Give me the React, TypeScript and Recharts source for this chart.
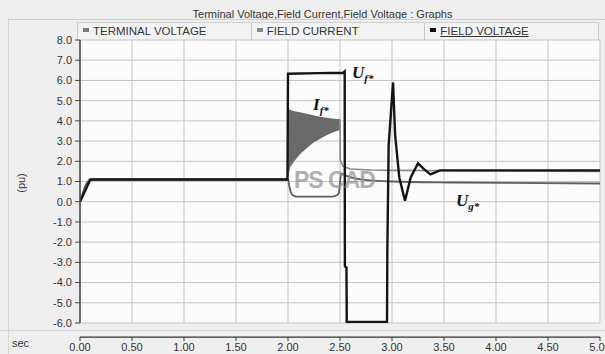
import React from 'react';
import { ComposedChart, Line, Area, XAxis, YAxis, CartesianGrid, ReferenceLine } from 'recharts';

const xTicks = [0, 0.5, 1, 1.5, 2, 2.5, 3, 3.5, 4, 4.5, 5];
const yTicks = [-6, -5, -4, -3, -2, -1, 0, 1, 2, 3, 4, 5, 6, 7, 8];
const legendNames = ['TERMINAL VOLTAGE', 'FIELD CURRENT', 'FIELD VOLTAGE'];
const legendColors = ['#7a7a7a', '#8a8a8a', '#111'];

// field voltage Uf*
const ufTime = [0, 0.1, 1.995, 2.0, 2.3, 2.53, 2.545, 2.547, 2.562, 2.565, 2.952, 2.955, 2.968, 3.01, 3.03, 3.07, 3.125, 3.18, 3.25, 3.31, 3.37, 3.46, 5.0];
const ufValue = [0, 1.1, 1.1, 6.33, 6.36, 6.38, 6.45, -3.2, -3.25, -5.95, -5.95, -2.5, 2.8, 5.9, 3.3, 1.2, 0.05, 1.2, 1.9, 1.6, 1.35, 1.55, 1.55];

// terminal voltage Ug*
const ugTime = [0, 0.1, 2.0, 2.015, 2.04, 2.08, 2.42, 2.47, 2.49, 2.5, 2.51, 2.55, 2.7, 3.0, 3.6, 5.0];
const ugValue = [0, 1.1, 1.1, 0.7, 0.35, 0.25, 0.25, 0.32, 0.45, 0.95, 1.4, 1.3, 1.1, 1.0, 0.95, 0.9];

// field current If* (line part, gap where the band is)
const ifTime = [0, 0.1, 2.0, 2.25, 2.5, 2.502, 2.53, 2.6, 2.8, 3.0, 5.0];
const ifValue = [0, 1.1, 1.1, null, 4.08, 2.05, 1.75, 1.62, 1.57, 1.55, 1.5];

// field current If* fast oscillation envelope
const bandTime = [2.0, 2.02, 2.06, 2.115, 2.18, 2.24, 2.31, 2.375, 2.44, 2.5];
const bandLow = [1.1, 1.7, 2.0, 2.35, 2.65, 2.9, 3.12, 3.3, 3.45, 3.55];
const bandHigh = [4.6, 4.55, 4.47, 4.42, 4.35, 4.28, 4.2, 4.15, 4.1, 4.08];

const zip = (t: number[], v: (number | null)[]) => t.map((time, i) => ({ t: time, v: v[i] }));
const ufData = zip(ufTime, ufValue);
const ugData = zip(ugTime, ugValue);
const ifData = zip(ifTime, ifValue);
const bandData = bandTime.map((time, i) => ({ t: time, range: [bandLow[i], bandHigh[i]] }));

const XTick = (props: any) => {
  const { x, y, payload } = props;
  return (
    <g>
      <line x1={x} x2={x} y1={y + 14} y2={y + 18} stroke="#333" />
      <text x={x} y={y + 28} textAnchor="middle" fontSize={11} fill="#333">
        {Number(payload.value).toFixed(2)}
      </text>
    </g>
  );
};

const mathLabel: React.CSSProperties = {
  position: 'absolute',
  fontFamily: '"Liberation Serif", serif',
  fontStyle: 'italic',
  fontWeight: 'bold',
  fontSize: 17,
  lineHeight: '16px',
  color: '#111',
  whiteSpace: 'nowrap',
};
const subStyle: React.CSSProperties = { fontSize: 11, verticalAlign: 'baseline', position: 'relative', top: 4 };

export default function App() {
  return (
    <div
      style={{
        position: 'absolute',
        left: 0,
        top: 0,
        width: 605,
        height: 354,
        background: '#efefef',
        fontFamily: '"Liberation Sans", Arial, sans-serif',
        color: '#333',
        overflow: 'hidden',
      }}
    >
      {/* title bar */}
      <div style={{ position: 'absolute', left: 40, width: 565, top: 7, textAlign: 'center', fontSize: 11, lineHeight: '14px' }}>
        Terminal Voltage,Field Current,Field Voltage : Graphs
      </div>
      <div style={{ position: 'absolute', left: 8, right: 0, top: 19, borderTop: '1px solid #cfcfcf' }} />
      <div style={{ position: 'absolute', left: 8, top: 19, bottom: 0, borderLeft: '1px solid #d6d6d6' }} />

      {/* legend row */}
      <div style={{ position: 'absolute', left: 77, top: 22, width: 522, height: 17, display: 'flex', background: '#f3f3f3', borderTop: '1px solid #d0d0d0' }}>
        {legendNames.map((name, i) => (
          <div
            key={name}
            style={{
              flex: 1,
              borderLeft: '1px solid #c8c8c8',
              borderRight: i === 2 ? '1px solid #c8c8c8' : undefined,
              fontSize: 11.5,
              lineHeight: '17px',
              paddingLeft: 5,
              whiteSpace: 'nowrap',
            }}
          >
            <span style={{ display: 'inline-block', width: 6, height: 4, background: legendColors[i], marginRight: 4, verticalAlign: 'middle', position: 'relative', top: -2 }} />
            <span style={{ textDecoration: i === 2 ? 'underline' : 'none' }}>{name}</span>
          </div>
        ))}
      </div>

      <div style={{ position: 'absolute', left: 0, top: 330, width: 605, borderTop: '1px solid #d6d6d6' }} />

      <ComposedChart width={605} height={354} data={ufData} margin={{ top: 40, right: 5, bottom: 0, left: 0 }} style={{ position: 'absolute', left: 0, top: 0 }}>
        <CartesianGrid stroke="#c4c4c4" fill="#fcfcfc" />
        <XAxis
          dataKey="t"
          type="number"
          domain={[0, 5]}
          ticks={xTicks}
          allowDataOverflow
          height={31}
          axisLine={false}
          tickLine={false}
          tickSize={0}
          tickMargin={0}
          tick={<XTick />}
        />
        <YAxis
          type="number"
          domain={[-6, 8]}
          ticks={yTicks}
          allowDataOverflow
          width={80}
          interval={0}
          tickFormatter={(v: number) => v.toFixed(1)}
          tick={{ fontSize: 11, fill: '#333' }}
          tickSize={5}
          tickMargin={3}
          axisLine={{ stroke: '#444', strokeWidth: 1.5 }}
          tickLine={{ stroke: '#444' }}
        />
        <ReferenceLine y={-6.7} ifOverflow="visible" stroke="#333" strokeWidth={1.2} />
        <Area data={bandData} dataKey="range" type="linear" stroke="none" fill="#6a6a6a" fillOpacity={1} isAnimationActive={false} />
        <Line data={ifData} dataKey="v" type="linear" stroke="#8a8a8a" strokeWidth={1.6} dot={false} isAnimationActive={false} />
        <Line data={ugData} dataKey="v" type="monotone" stroke="#5e5e5e" strokeWidth={1.8} dot={false} isAnimationActive={false} />
        <Line data={ufData} dataKey="v" type="linear" stroke="#151515" strokeWidth={2.4} dot={false} isAnimationActive={false} />
      </ComposedChart>

      {/* axis captions */}
      <div style={{ position: 'absolute', left: 1, top: 176, width: 40, textAlign: 'center', fontSize: 11, lineHeight: '14px', transform: 'rotate(-90deg)' }}>(pu)</div>
      <div style={{ position: 'absolute', left: 12, top: 336, fontSize: 11, lineHeight: '14px' }}>sec</div>

      {/* annotations */}
      <div style={{ position: 'absolute', left: 294, top: 168, fontSize: 23, fontWeight: 'bold', color: 'rgba(150,150,150,0.75)', letterSpacing: -1, lineHeight: '24px' }}>
        PS CAD
      </div>
      <div style={{ ...mathLabel, left: 352, top: 65 }}>
        U<span style={subStyle}>f*</span>
      </div>
      <div style={{ ...mathLabel, left: 313, top: 97 }}>
        I<span style={subStyle}>f*</span>
      </div>
      <div style={{ ...mathLabel, left: 456, top: 193 }}>
        U<span style={subStyle}>g*</span>
      </div>
    </div>
  );
}
